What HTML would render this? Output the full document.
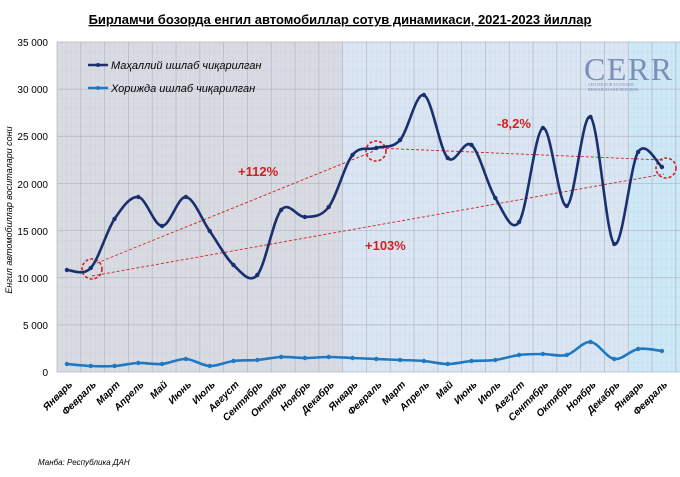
<!DOCTYPE html>
<html><head><meta charset="utf-8"><style>
body{margin:0;background:#fff;width:680px;height:472px;overflow:hidden}
text{font-family:"Liberation Sans",Arial,sans-serif}
text.serif{font-family:"Liberation Serif",serif}
</style></head><body>
<svg id="s" width="680" height="472" xmlns="http://www.w3.org/2000/svg">
<defs>
<pattern id="g" width="4.76" height="9.43" patternUnits="userSpaceOnUse" x="57" y="42">
<path d="M0 0H4.76M0 0V9.43" stroke="#b9bcc8" stroke-width="0.4" fill="none"/>
</pattern>
</defs>
<rect x="57" y="42" width="286" height="330" fill="#d9dbe3"/>
<rect x="343" y="42" width="286" height="330" fill="#dae6f3"/>
<rect x="629" y="42" width="51" height="330" fill="#cde8f6"/>
<rect x="57" y="42" width="623" height="330" fill="url(#g)" opacity="0.7"/>
<g id="grid" stroke="#b3b7c3" stroke-width="0.7"></g>
<text x="340" y="24" font-size="13" font-weight="bold" text-anchor="middle" text-decoration="underline">Бирламчи бозорда енгил автомобиллар сотув динамикаси, 2021-2023 йиллар</text>
<g font-size="10" text-anchor="end">
<text x="48" y="46">35 000</text><text x="48" y="93">30 000</text><text x="48" y="140">25 000</text><text x="48" y="188">20 000</text><text x="48" y="235">15 000</text><text x="48" y="282">10 000</text><text x="48" y="329">5 000</text><text x="48" y="376">0</text>
</g>
<text transform="translate(12,210) rotate(-90)" font-size="9" font-style="italic" text-anchor="middle">Енгил автомобиллар воситалари сони</text>
<g fill="#7d8fb8">
<text class="serif" x="584" y="80" font-size="32" textLength="88">CERR</text>
<text class="serif" x="588" y="86" font-size="4">CENTER FOR ECONOMIC</text>
<text class="serif" x="588" y="91" font-size="4">RESEARCH AND REFORMS</text>
</g>
<line x1="88" y1="65" x2="108" y2="65" stroke="#1a2f6e" stroke-width="2.5"/><circle cx="98" cy="65" r="2" fill="#1a2f6e"/>
<text x="111" y="69" font-size="11" font-style="italic">Маҳаллий ишлаб чиқарилган</text>
<line x1="88" y1="88" x2="108" y2="88" stroke="#1e78c2" stroke-width="2.5"/><circle cx="98" cy="88" r="2" fill="#1e78c2"/>
<text x="111" y="92" font-size="11" font-style="italic">Хорижда ишлаб чиқарилган</text>
<g stroke="#d42020" stroke-width="0.9" stroke-dasharray="3,2" fill="none">
<line x1="92" y1="265" x2="374" y2="151"/>
<line x1="92" y1="276" x2="664" y2="174"/>
<line x1="376" y1="148" x2="663" y2="160"/>
<circle cx="92" cy="269" r="10" stroke-width="1.6"/>
<circle cx="376" cy="151" r="10" stroke-width="1.6"/>
<circle cx="666" cy="168" r="10" stroke-width="1.6"/>
</g>
<g font-size="13" font-weight="bold" fill="#d42020">
<text x="238" y="176">+112%</text><text x="365" y="250">+103%</text><text x="497" y="128">-8,2%</text>
</g>
<g id="ser"></g>
<g id="lab" font-size="10" font-weight="bold" font-style="italic"></g>
<text x="38" y="465" font-size="8" font-style="italic">Манба: Республика ДАН</text>
</svg>
<script>
var NS="http://www.w3.org/2000/svg";
function el(t,a,p){var e=document.createElementNS(NS,t);for(var k in a)e.setAttribute(k,a[k]);if(p)p.appendChild(e);return e;}
var grid=document.getElementById('grid');
for(var i=0;i<=26;i++){var x=57+23.8*i;el('line',{x1:x,y1:42,x2:x,y2:372},grid);}
for(var j=0;j<=7;j++){var y=42+j*47.14;el('line',{x1:57,y1:y,x2:680,y2:y},grid);}
var d=[270,268,219,197,226,197,231,265,275,210,217,207,155,148,140,95,158,145,198,222,128,206,117,244,152,167];
var l=[364,366,366,363,364,359,366,361,360,357,358,357,358,359,360,361,364,361,360,355,354,355,342,359,349,351];
var names=["Январь","Февраль","Март","Апрель","Май","Июнь","Июль","Август","Сентябрь","Октябрь","Ноябрь","Декабрь","Январь","Февраль","Март","Апрель","Май","Июнь","Июль","Август","Сентябрь","Октябрь","Ноябрь","Декабрь","Январь","Февраль"];
function X(i){return 57+23.8*(i+0.5)-2;}
function path(v){var p=v.map(function(y,i){return[X(i),y]});var s="M"+p[0];
for(var i=0;i<p.length-1;i++){var a=p[i-1]||p[i],b=p[i],c=p[i+1],e=p[i+2]||c;
s+="C"+(b[0]+(c[0]-a[0])/6)+","+(b[1]+(c[1]-a[1])/6)+" "+(c[0]-(e[0]-b[0])/6)+","+(c[1]-(e[1]-b[1])/6)+" "+c[0]+","+c[1];}return s;}
var g=document.getElementById('ser');
[[l,"#1e78c2"],[d,"#1a2f6e"]].forEach(function(q){el('path',{d:path(q[0]),stroke:q[1],"stroke-width":2.6,fill:"none"},g);
q[0].forEach(function(y,i){el('circle',{cx:X(i),cy:y,r:2.2,fill:q[1]},g);});});
var lab=document.getElementById('lab');
names.forEach(function(n,i){var t=el('text',{transform:"translate("+(X(i)+6)+",385) rotate(-45)","text-anchor":"end"},lab);t.textContent=n;});
</script>
</body></html>
